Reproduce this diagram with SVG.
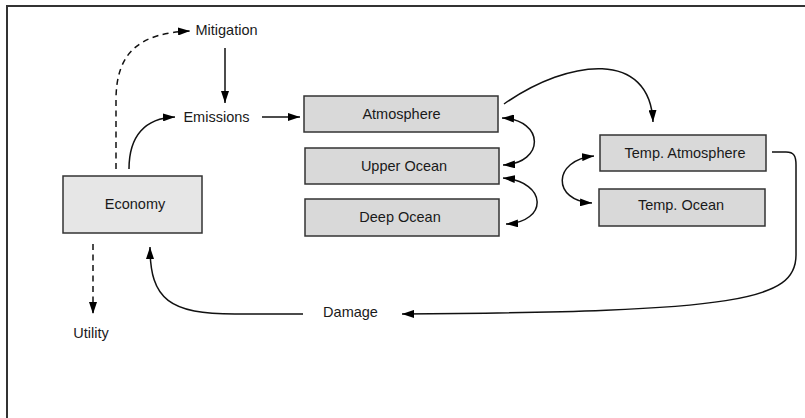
<svg xmlns="http://www.w3.org/2000/svg" width="805" height="418" viewBox="0 0 805 418">
<style>
.box{stroke:#333;stroke-width:1.5}
.b1{fill:#d9d9d9}
.b0{fill:#e6e6e6}
text{font-family:"Liberation Sans",Arial,Helvetica,sans-serif;font-size:14.5px;fill:#1a1a1a;text-anchor:middle}
.c{fill:none;stroke:#111;stroke-width:1.5}
.d{stroke-dasharray:6,4.5}
.ae{marker-end:url(#ah)}
.ab{marker-start:url(#ah);marker-end:url(#ah)}
</style>
<defs>
<marker id="ah" viewBox="0 0 12 8" refX="12" refY="4" markerWidth="12" markerHeight="8" markerUnits="userSpaceOnUse" orient="auto-start-reverse">
<path d="M0,0 L12,4 L0,8 z" fill="#000"/>
</marker>
</defs>
<rect width="805" height="418" fill="#fff"/>
<path d="M7,418 V6 H805" fill="none" stroke="#333" stroke-width="2"/>

<g id="connectors">
<path class="c d ae" d="M116,169 V100 C116,52 140,33 190,31"/>
<path class="c ae" d="M225,48 V103"/>
<path class="c ae" d="M129,169 C129,136 145,118 175,117"/>
<path class="c ae" d="M262,117 H300"/>
<path class="c ae" d="M504,104 C570,58 650,50 653,122"/>
<path class="c ab" d="M502,118 C545,120 545,163 503,165"/>
<path class="c ab" d="M503,178 C548,182 548,222 506,224"/>
<path class="c ab" d="M594,156 C552,160 552,201 592,203"/>
<path class="c ae" d="M772,152 H786 C794,152 796,156 796,165 V255 C796,300 740,312 402,314"/>
<path class="c ae" d="M303,314 L235,314 C170,314 150,300 150,247"/>
<path class="c d ae" d="M93,244 V314"/>
</g>

<g id="mitigation"><text x="226.5" y="35">Mitigation</text></g>
<g id="emissions"><text x="216.5" y="122">Emissions</text></g>
<g id="economy"><rect class="box b0" x="63" y="176" width="139" height="57"/><text x="135" y="209">Economy</text></g>
<g id="atmosphere"><rect class="box b1" x="304" y="96" width="194" height="36"/><text x="401.5" y="119">Atmosphere</text></g>
<g id="upper-ocean"><rect class="box b1" x="305" y="148" width="194" height="36"/><text x="404" y="171">Upper Ocean</text></g>
<g id="deep-ocean"><rect class="box b1" x="305" y="199" width="194" height="37"/><text x="400" y="222">Deep Ocean</text></g>
<g id="temp-atmosphere"><rect class="box b1" x="600" y="135" width="166" height="36"/><text x="685" y="158">Temp. Atmosphere</text></g>
<g id="temp-ocean"><rect class="box b1" x="599" y="189" width="166" height="37"/><text x="681" y="210">Temp. Ocean</text></g>
<g id="damage"><text x="350.5" y="317">Damage</text></g>
<g id="utility"><text x="91" y="338">Utility</text></g>
</svg>
